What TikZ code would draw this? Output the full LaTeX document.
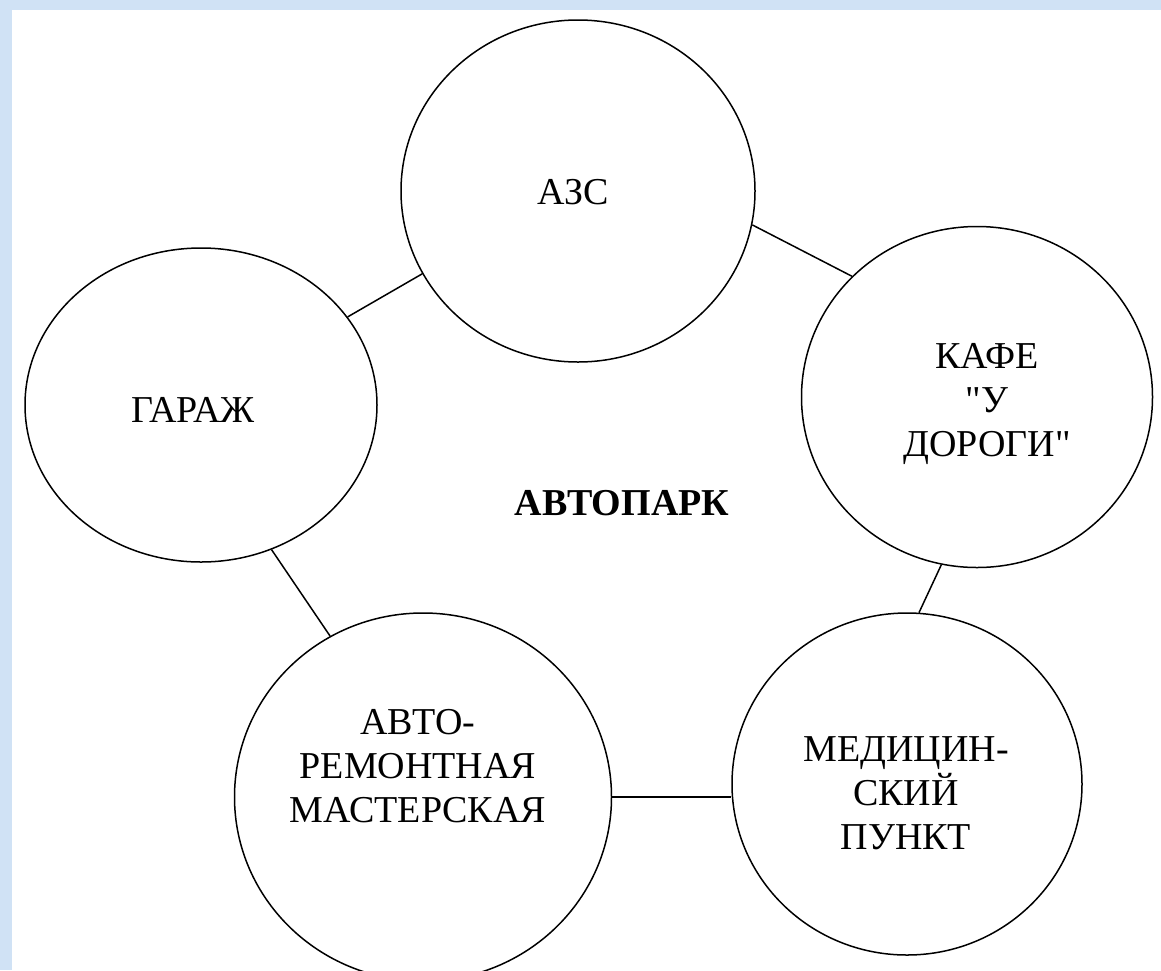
\documentclass[tikz,border=0pt]{standalone}
\usepackage{fontspec}
\setmainfont{Liberation Serif}
\usetikzlibrary{calc}
\usetikzlibrary{shapes.geometric}
\definecolor{bgblue}{RGB}{208,226,245}
\tikzset{
  place/.style={draw, ellipse, line width=1.5pt, inner sep=0pt},
  caption/.style={align=center, inner sep=0pt, font=\fontsize{38}{44}\selectfont},
  link/.style={line width=1.5pt}
}

\begin{document}
\begin{tikzpicture}[x=1pt, y=-1pt]
\useasboundingbox (0,0) rectangle (1161,970);
\fill[bgblue] (0,0) rectangle (1161,970);
\fill[white] (12,10) rectangle (1161,970);

\node[place, minimum width=354pt, minimum height=342pt] (azs) at (578,191) {};
\node[place, minimum width=351pt, minimum height=341pt] (kafe) at (977,397) {};
\node[place, minimum width=352pt, minimum height=314pt] (garazh) at (201,405) {};
\node[place, minimum width=377pt, minimum height=368pt] (avto) at (423,797) {};
\node[place, minimum width=350pt, minimum height=342pt] (med) at (907,784) {};

\node[caption] (azs-t) at (573,192) {АЗС};
\node[caption] (kafe-t) at (987,404) {КАФЕ\\\textquotedbl У\\ДОРОГИ\textquotedbl};
\node[caption] (garazh-t) at (193,410) {ГАРАЖ};
\node[caption] (avto-t) at (418,766) {АВТО-\\РЕМОНТНАЯ\\МАСТЕРСКАЯ};
\node[caption] (med-t) at (906,793) {МЕДИЦИН-\\СКИЙ\\ПУНКТ};
\node[caption, font=\fontsize{38}{44}\selectfont\bfseries] (park) at (622,503) {АВТОПАРК};

\draw[link] (garazh.31) -- (azs.208);
\draw[link] (azs.-11) -- (kafe.136);
\draw[link] (kafe.-102) -- (med.86);
\draw[link] (avto.east) -- (avto.east -| med.west);
\draw[link] (garazh.-64) -- (avto.120);

\end{tikzpicture}
\end{document}
